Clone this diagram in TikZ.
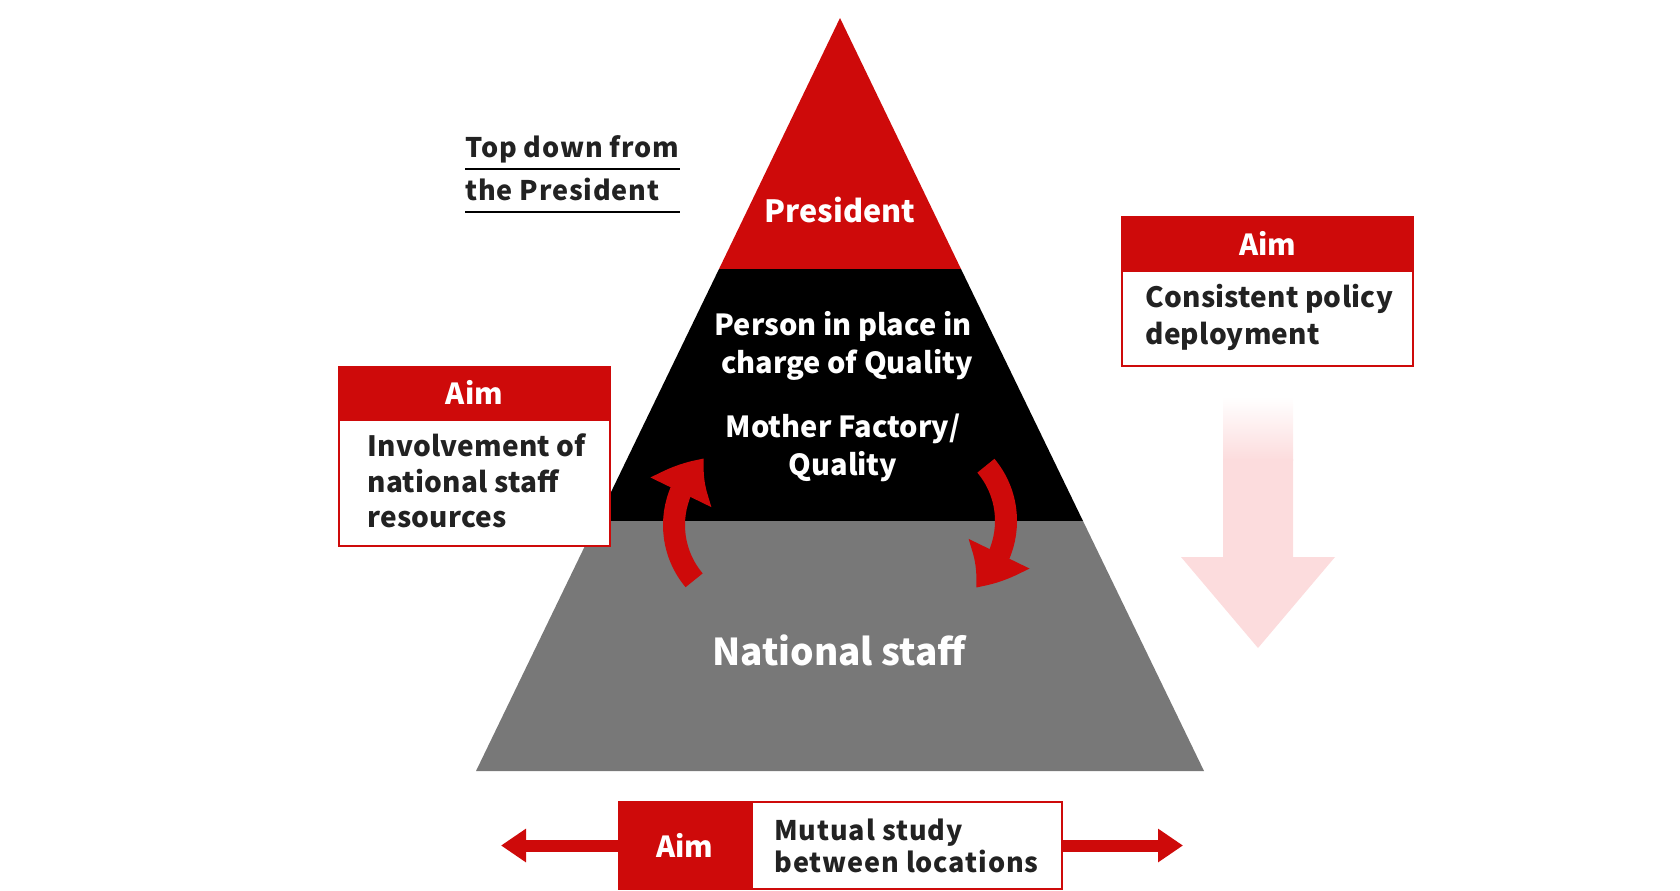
\documentclass[tikz,border=0pt]{standalone}
\usepackage{fontspec}
\setmainfont{Noto Sans CJK JP}
\newfontfamily\bodyfont{Noto Sans CJK JP}[LetterSpace=0.8]
\newfontfamily\topfont{Noto Sans CJK JP}[LetterSpace=3]
\newfontfamily\mutfont{Noto Sans CJK JP}[LetterSpace=3.2]
\usetikzlibrary{arrows.meta,bending}

\definecolor{aimred}{RGB}{206,10,10}
\definecolor{staffgray}{RGB}{120,120,120}
\definecolor{pinkarrow}{RGB}{252,220,221}
\definecolor{textdark}{RGB}{34,34,34}

\begin{document}
\begin{tikzpicture}[x=0.5pt, y=-0.5pt,
    pyrtext/.style={text=white, inner sep=0pt, anchor=base, font=\bfseries\fontsize{14.5}{17}\selectfont},
    aimhead/.style={fill=aimred, text=white, inner sep=0pt, font=\bfseries\fontsize{14.5}{17}\selectfont},
    aimbody/.style={draw=aimred, fill=white, line width=1pt, inner sep=0pt},
    bodytext/.style={text=textdark, inner sep=0pt, anchor=base west, font=\bodyfont\bfseries\fontsize{14}{17}\selectfont},
    turnarrow/.style={draw=aimred, line width=11pt, -{Triangle[length=21pt,width=32pt,bend]}},
    sidearrow/.style={draw=aimred, line width=6pt, -{Triangle[length=12.5pt,width=16pt]}}]
    \useasboundingbox (0,0) rectangle (1680,890);

    % Pyramide
    \fill[aimred] (840,18) -- (719,269) -- (961,269) -- cycle;
    \fill[black] (719,269) -- (597,521) -- (1083,521) -- (961,269) -- cycle;
    \fill[staffgray] (597,521) -- (476,771) -- (1204,771) -- (1083,521) -- cycle;

    \node[pyrtext, font=\bfseries\fontsize{15.3}{18}\selectfont] (pres) at (840,222) {President};
    \node[pyrtext] (pers1) at (843,335) {Person in place in};
    \node[pyrtext] (pers2) at (847,373) {charge of Quality};
    \node[pyrtext] (moth1) at (843,437) {Mother Factory/};
    \node[pyrtext] (moth2) at (843,475) {Quality};
    \node[pyrtext, font=\bfseries\fontsize{18.5}{21}\selectfont] (natl) at (839,665) {National staff};

    % Kreislauf
    \coordinate (lpivot) at (760,525);
    \coordinate (rpivot) at (920,521);
    \draw[turnarrow] ([shift={(140:86)}]lpivot) arc[start angle=140, end angle=230, radius=86];
    \draw[turnarrow] ([shift={(-40:86)}]rpivot) arc[start angle=-40, end angle=50, radius=86];

    % Top down
    \node[bodytext, font=\topfont\bfseries\fontsize{13.5}{16}\selectfont] (top1) at (465,157) {Top down from};
    \node[bodytext, font=\topfont\bfseries\fontsize{13.5}{16}\selectfont] (top2) at (465,200) {the President};
    \draw[line width=1pt] (465,169) -- (680,169);
    \draw[line width=1pt] (465,212) -- (680,212);

    % Aim links
    \node[aimhead, minimum width=136.5pt, minimum height=26.5pt] (aimL) at (474.5,392.5) {Aim};
    \node[aimbody, minimum width=135.5pt, minimum height=63pt, anchor=north] (bodyL) at (aimL.south) {};
    \node[bodytext] (invl1) at (367,456) {Involvement of};
    \node[bodytext] (invl2) at (367,492) {national staff};
    \node[bodytext] (invl3) at (367,527) {resources};

    % Aim rechts
    \node[aimhead, minimum width=146.5pt, minimum height=27pt] (aimR) at (1267.5,243) {Aim};
    \node[aimbody, minimum width=145.5pt, minimum height=47.5pt, anchor=north] (bodyR) at (aimR.south) {};
    \node[bodytext] (cons1) at (1145,307) {Consistent policy};
    \node[bodytext] (cons2) at (1145,344) {deployment};

    % Pfeil nach unten
    \shade[top color=white, bottom color=pinkarrow] (1223,397) rectangle (1293,460);
    \fill[pinkarrow] (1223,459) -- (1223,557) -- (1181,557) -- (1258,648) -- (1335,557) -- (1293,557) -- (1293,459) -- cycle;

    % Aim unten
    \node[aimhead, minimum width=66.5pt, minimum height=44.5pt] (aimB) at (684.5,845.5) {Aim};
    \node[aimbody, minimum width=155pt, minimum height=43.5pt, anchor=west] (bodyB) at (aimB.east) {};
    \node[bodytext, font=\mutfont\bfseries\fontsize{13.5}{16}\selectfont] (mut1) at (774,840) {Mutual study};
    \node[bodytext, font=\mutfont\bfseries\fontsize{13.5}{16}\selectfont] (mut2) at (774,872) {between locations};
    \coordinate (ltip) at (501,845.5);
    \coordinate (rtip) at (1183,845.5);
    \draw[sidearrow] (aimB.west) -- (ltip);
    \draw[sidearrow] (bodyB.east) -- (rtip);
\end{tikzpicture}
\end{document}
